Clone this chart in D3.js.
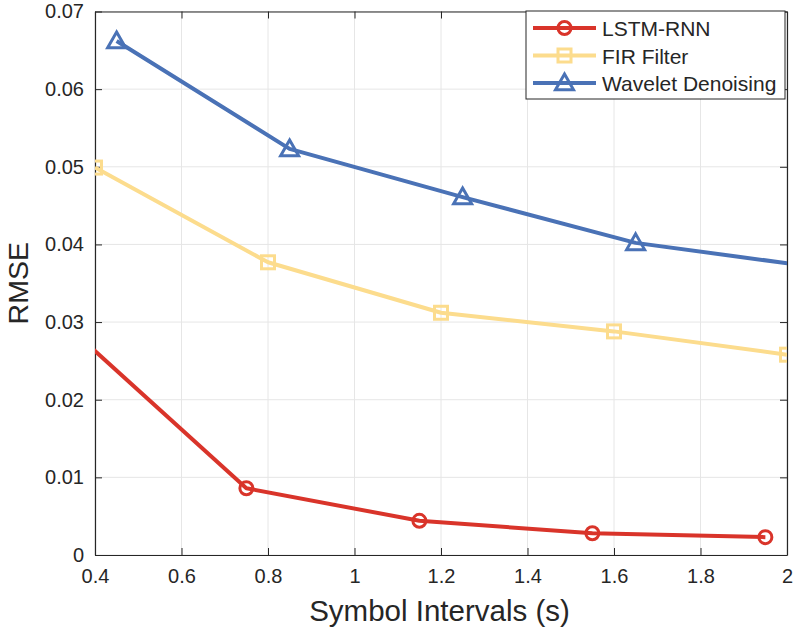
<!DOCTYPE html>
<html>
<head>
<meta charset="utf-8">
<script src="https://cdn.jsdelivr.net/npm/d3@7"></script>
<style>
  body { margin: 0; background: #fff; }
  svg text { font-family: "Liberation Sans", Arial, sans-serif; fill: #262626; }
</style>
</head>
<body>
<div id="chart"></div>
<script>
// series values
const lstmX = [0.35, 0.75, 1.15, 1.55, 1.95];
const lstmY = [0.0288, 0.0086, 0.0044, 0.0028, 0.0023];
const firX = [0.4, 0.8, 1.2, 1.6, 2.0];
const firY = [0.0499, 0.0377, 0.0312, 0.0288, 0.0258];
const waveX = [0.45, 0.85, 1.25, 1.65, 2.05];
const waveY = [0.0662, 0.0523, 0.0461, 0.0402, 0.0372];

const xTicks = [0.4, 0.6, 0.8, 1, 1.2, 1.4, 1.6, 1.8, 2];
const yTicks = [0, 0.01, 0.02, 0.03, 0.04, 0.05, 0.06, 0.07];
const seriesNames = ["LSTM-RNN", "FIR Filter", "Wavelet Denoising"];

const margin = { top: 11.5, right: 6, bottom: 77, left: 95 };
const W = 793, H = 632;
const width = W - margin.left - margin.right;
const height = H - margin.top - margin.bottom;

const x = d3.scaleLinear().domain([0.4, 2]).range([0, width]);
const y = d3.scaleLinear().domain([0, 0.07]).range([height, 0]);

const svg = d3.select("#chart")
  .append("svg")
  .attr("width", W)
  .attr("height", H)
  .append("g")
  .attr("transform", `translate(${margin.left},${margin.top})`);

svg.append("defs").append("clipPath").attr("id", "clip")
  .append("rect").attr("width", width).attr("height", height);

// grid
svg.append("g").selectAll("line").data(xTicks).enter().append("line")
  .attr("x1", d => x(d)).attr("x2", d => x(d))
  .attr("y1", 0).attr("y2", height)
  .attr("stroke", "#e6e6e6").attr("stroke-width", 1);
svg.append("g").selectAll("line").data(yTicks).enter().append("line")
  .attr("y1", d => y(d)).attr("y2", d => y(d))
  .attr("x1", 0).attr("x2", width)
  .attr("stroke", "#e6e6e6").attr("stroke-width", 1);

// axes (inward ticks, closed box)
const axisColor = "#262626";
const xAxis = svg.append("g")
  .attr("transform", `translate(0,${height})`)
  .call(d3.axisBottom(x).tickValues(xTicks).tickSizeInner(-7).tickSizeOuter(0).tickPadding(14).tickFormat(d3.format("~g")));
const xAxisTop = svg.append("g")
  .call(d3.axisTop(x).tickValues(xTicks).tickSizeInner(-7).tickSizeOuter(0).tickFormat(""));
const yAxis = svg.append("g")
  .call(d3.axisLeft(y).tickValues(yTicks).tickSizeInner(-7).tickSizeOuter(0).tickPadding(11).tickFormat(d3.format("~g")));
const yAxisRight = svg.append("g")
  .attr("transform", `translate(${width},0)`)
  .call(d3.axisRight(y).tickValues(yTicks).tickSizeInner(-7).tickSizeOuter(0).tickFormat(""));

[xAxis, xAxisTop, yAxis, yAxisRight].forEach(a => {
  a.select(".domain").attr("stroke", axisColor).attr("stroke-width", 1.2);
  a.selectAll(".tick line").attr("stroke", axisColor).attr("stroke-width", 1);
  a.selectAll("text").style("font-size", "20px").attr("fill", axisColor)
    .style("font-family", "'Liberation Sans', Arial, sans-serif");
});

// axis labels
svg.append("text")
  .attr("x", width / 2 - 1.5)
  .attr("y", height + 66)
  .style("text-anchor", "middle")
  .style("font-size", "29.5px")
  .text("Symbol Intervals (s)");

svg.append("text")
  .attr("transform", "rotate(-90)")
  .attr("x", -height / 2)
  .attr("y", -67)
  .style("text-anchor", "middle")
  .style("font-size", "28.5px")
  .text("RMSE");

// series
const series = [
  { name: seriesNames[0], xs: lstmX, ys: lstmY, color: "#d9342a", marker: "circle" },
  { name: seriesNames[1], xs: firX, ys: firY, color: "#fcdc8d", marker: "square" },
  { name: seriesNames[2], xs: waveX, ys: waveY, color: "#4a72b6", marker: "triangle" }
];

const line = d3.line().x(d => x(d[0])).y(d => y(d[1]));
const plot = svg.append("g").attr("clip-path", "url(#clip)");

function drawMarker(g, type, cx, cy, color) {
  if (type === "circle") {
    g.append("circle").attr("cx", cx).attr("cy", cy).attr("r", 6.5)
      .attr("fill", "none").attr("stroke", color).attr("stroke-width", 3);
  } else if (type === "square") {
    g.append("rect").attr("x", cx - 6.5).attr("y", cy - 6.5).attr("width", 13).attr("height", 13)
      .attr("fill", "none").attr("stroke", color).attr("stroke-width", 3);
  } else {
    const s = 9;
    g.append("path")
      .attr("d", `M${cx},${cy - s}L${cx + s},${cy + s * 0.75}L${cx - s},${cy + s * 0.75}Z`)
      .attr("fill", "none").attr("stroke", color).attr("stroke-width", 3)
      .attr("stroke-linejoin", "miter");
  }
}

series.forEach(s => {
  const pts = s.xs.map((v, i) => [v, s.ys[i]]);
  plot.append("path").datum(pts)
    .attr("fill", "none")
    .attr("stroke", s.color)
    .attr("stroke-width", 4)
    .attr("stroke-linejoin", "round")
    .attr("d", line);
  pts.forEach(p => drawMarker(plot, s.marker, x(p[0]), y(p[1]), s.color));
});

// legend
const legend = svg.append("g").attr("transform", `translate(${526 - margin.left},${11 - margin.top})`);
legend.append("rect").attr("width", 259).attr("height", 88)
  .attr("fill", "#fff").attr("stroke", axisColor).attr("stroke-width", 1);
series.forEach((s, i) => {
  const ly = 17 + i * 27.5;
  legend.append("line").attr("x1", 7).attr("x2", 70).attr("y1", ly).attr("y2", ly)
    .attr("stroke", s.color).attr("stroke-width", 4);
  drawMarker(legend, s.marker, 38.5, ly, s.color);
  legend.append("text").attr("x", 76).attr("y", ly + 8)
    .style("font-size", "21px").text(s.name);
});
</script>
</body>
</html>
